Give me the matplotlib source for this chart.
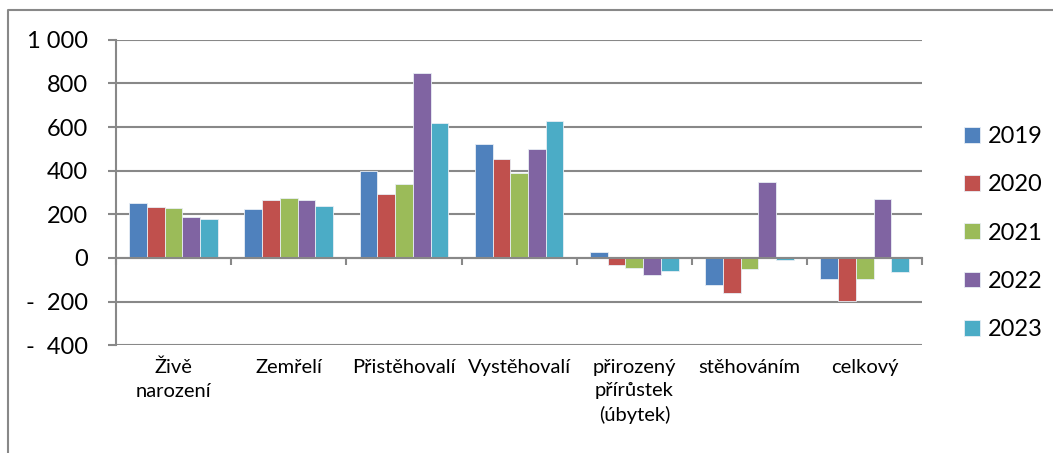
import matplotlib
matplotlib.use("Agg")
import numpy as np
import matplotlib.pyplot as plt
from matplotlib.lines import Line2D

# data
categories = ["Živě\nnarození", "Zemřelí", "Přistěhovalí", "Vystěhovalí",
              "přirozený\npřírůstek\n(úbytek)", "stěhováním", "celkový"]
years = ["2019", "2020", "2021", "2022", "2023"]
v2019 = [252, 226, 400, 524, 26, -124, -98]
v2020 = [234, 266, 294, 455, -32, -161, -196]
v2021 = [230, 275, 339, 391, -45, -52, -95]
v2022 = [188, 264, 850, 501, -76, 349, 272]
v2023 = [179, 237, 618, 627, -58, -9, -66]
yticks = [-400, -200, 0, 200, 400, 600, 800, 1000]
ytick_labels = ["-  400", "-  200", "0", "200", "400", "600", "800", "1 000"]

colors = ["#4F81BD", "#C0504D", "#9BBB59", "#8064A2", "#4BACC6"]
grid_col = "#888888"

plt.rcParams["font.family"] = ["Lato", "DejaVu Sans"]


def main():
    fig = plt.figure(figsize=(10.53, 4.53), dpi=100)
    ax = fig.add_axes([0.110, 0.238, 0.766, 0.674])

    series = [v2019, v2020, v2021, v2022, v2023]
    x = np.arange(len(categories))
    w = 0.154
    for i, (vals, col, yr) in enumerate(zip(series, colors, years)):
        ax.bar(x + (i - 2) * w, vals, width=w, color=col, label=yr,
               edgecolor="#e8eef5", linewidth=0.6, zorder=3)

    ax.set_xlim(-0.5, len(categories) - 0.5)
    ax.set_ylim(-400, 1000)
    ax.set_yticks(yticks)
    ax.set_yticklabels(ytick_labels, fontsize=17)
    ax.yaxis.grid(True, color=grid_col, linewidth=1.5, zorder=0)
    ax.tick_params(axis="y", length=6, width=1.5, color=grid_col, pad=14)

    for s in ["top", "right"]:
        ax.spines[s].set_visible(False)
    ax.spines["left"].set_color(grid_col)
    ax.spines["left"].set_linewidth(1.5)
    ax.spines["bottom"].set_position(("data", 0))
    ax.spines["bottom"].set_color(grid_col)
    ax.spines["bottom"].set_linewidth(1.5)
    ax.spines["bottom"].set_zorder(4)

    ax.set_xticks(np.arange(len(categories) + 1) - 0.5)
    ax.set_xticklabels([])
    ax.tick_params(axis="x", length=5, width=1.5, color=grid_col)

    for xi, lab in zip(x, categories):
        ax.text(xi, -0.045, lab, transform=ax.get_xaxis_transform(),
                ha="center", va="top", fontsize=14.5, linespacing=1.45)

    ax.legend(loc="center left", bbox_to_anchor=(1.052, 0.367),
              frameon=False, fontsize=17, handlelength=0.65,
              handleheight=0.65, handletextpad=0.35, labelspacing=1.15,
              borderpad=0, borderaxespad=0)

    # outer chart frame (only left and top edges visible)
    fig.add_artist(Line2D([8 / 1053, 8 / 1053, 1.0],
                          [0.0, 1 - 10 / 453, 1 - 10 / 453],
                          transform=fig.transFigure, color=grid_col, linewidth=1.5))

    fig.savefig("out.png", dpi=100)


if __name__ == "__main__":
    main()
